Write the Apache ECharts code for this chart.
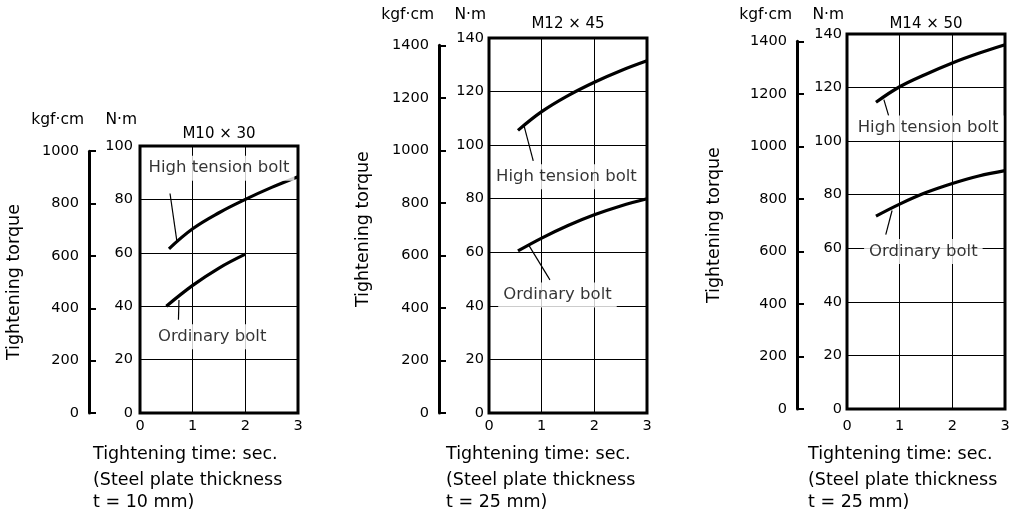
<!DOCTYPE html>
<html>
<head>
<meta charset="utf-8">
<script src="https://cdn.jsdelivr.net/npm/echarts@6/dist/echarts.min.js"></script>
<style>
  html, body { margin: 0; padding: 0; background: #fff; }
  #chart { width: 1019px; height: 512px; }
</style>
</head>
<body>
<div id="chart"></div>
<script>
// ---------- DATA ----------
const timeTicks = [0, 1, 2, 3];
const panelTitles = ['M10 \u00d7 30', 'M12 \u00d7 45', 'M14 \u00d7 50'];
const nmMax = [100, 140, 140];          // N·m axis max
const kgfMax = [1000, 1400, 1400];      // kgf·cm axis max
const thicknessText = ['t = 10 mm)', 't = 25 mm)', 't = 25 mm)'];

// Panel 1 (M10x30)
const htTime1 = [0.55, 1, 1.5, 2, 2.5, 3];
const highTension1 = [61.5, 69, 75, 80, 84.5, 88.5];
const ordTime1 = [0.5, 1, 1.5, 2];
const ordinary1 = [40, 47.8, 54.3, 59.5];
// Panel 2 (M12x45)
const htTime2 = [0.55, 1, 1.5, 2, 2.5, 3];
const highTension2 = [105.5, 112.5, 118.5, 123.5, 127.8, 131.5];
const ordTime2 = [0.55, 1, 1.5, 2, 2.5, 3];
const ordinary2 = [60.5, 65.3, 70, 74, 77.3, 80];
// Panel 3 (M14x50)
const htTime3 = [0.55, 1, 1.5, 2, 2.5, 3];
const highTension3 = [114.5, 120.3, 125, 129.2, 132.8, 136];
const ordTime3 = [0.55, 1, 1.5, 2, 2.5, 3];
const ordinary3 = [72, 76.5, 80.8, 84.2, 87, 89];

// annotation anchor points (data coordinates: [time, N·m])
const htLabelAt = [[1.5, 91.7], [1.47, 88.2], [1.54, 104.9]];
const ordLabelAt = [[1.37, 28.6], [1.30, 44.1], [1.45, 58.8]];
const htLeader = [[[0.57, 82.2], [0.70, 64.4]], [[0.667, 107.1], [0.84, 94.1]], [[0.70, 115.5], [0.79, 109.5]]];
const ordLeader = [[[0.73, 34.9], [0.74, 42.3]], [[0.763, 62.4], [1.157, 49.7]], [[0.856, 74.1], [0.736, 65.1]]];

const KGFCM_TO_NM = 0.0980665;

// ---------- LAYOUT ----------
const FONT = 'DejaVu Sans';
const plotLeft = [140, 489, 847];
const plotTop = [146, 38, 34];
const plotW = 158;
const plotH = [267, 375, 375];
const kgfX = [89, 439, 797];
const headerY = [120, 15, 15];
const titleY = [134, 24, 24];
const torqueNameGap = [66, 67, 74];
const nmLabelMargin = [7, 5, 5];
const timeLabelMargin = [6, 6, 10];
const bottomTextLeft = [93, 446, 808];
const bottomLineY = [454, 480, 502];

const htSets = [[htTime1, highTension1], [htTime2, highTension2], [htTime3, highTension3]];
const ordSets = [[ordTime1, ordinary1], [ordTime2, ordinary2], [ordTime3, ordinary3]];

const zip = (xs, ys) => xs.map((x, i) => [x, ys[i]]);

const grid = [], xAxis = [], yAxis = [], series = [], title = [];

function textTitle(text, left, cy, size, align) {
  const lh = Math.round(size * 1.25);
  title.push({
    text, left, top: cy - lh / 2, textAlign: align, padding: 0,
    textStyle: { fontFamily: FONT, fontSize: size, fontWeight: 'normal', color: '#000', lineHeight: lh }
  });
}

for (let p = 0; p < 3; p++) {
  const bottom = plotTop[p] + plotH[p];
  // main plot grid
  grid.push({
    left: plotLeft[p], top: plotTop[p], width: plotW, height: plotH[p],
    show: true, borderColor: '#000', borderWidth: 3, backgroundColor: 'transparent'
  });
  // kgf axis grid (height scaled by unit conversion)
  const kTop = plotTop[p] + plotH[p] * (1 - kgfMax[p] * KGFCM_TO_NM / nmMax[p]);
  grid.push({ left: kgfX[p], top: kTop, width: 1, height: bottom - kTop, show: false });

  const gi = p * 2;
  xAxis.push({
    gridIndex: gi, type: 'value', min: timeTicks[0], max: timeTicks[timeTicks.length - 1], interval: 1,
    axisLine: { show: false }, axisTick: { show: false },
    axisLabel: { show: true, margin: timeLabelMargin[p], fontFamily: FONT, fontSize: 14.5, color: '#000' },
    splitLine: { show: true, lineStyle: { color: '#000', width: 1 } }
  });
  xAxis.push({ gridIndex: gi + 1, type: 'value', show: false, min: 0, max: 1 });

  yAxis.push({
    gridIndex: gi, type: 'value', min: 0, max: nmMax[p], interval: 20,
    name: 'N\u00b7m', nameLocation: 'end', nameGap: plotTop[p] - headerY[p],
    nameTextStyle: { fontFamily: FONT, fontSize: 15.5, color: '#000', align: 'right', verticalAlign: 'middle', padding: [0, 3, 0, 0] },
    axisLine: { show: false }, axisTick: { show: false },
    axisLabel: { margin: nmLabelMargin[p], fontFamily: FONT, fontSize: 14.5, color: '#000', formatter: v => String(v) },
    splitLine: { show: true, lineStyle: { color: '#000', width: 1 } }
  });
  yAxis.push({
    gridIndex: gi + 1, type: 'value', min: 0, max: kgfMax[p], interval: 200, position: 'left',
    name: 'Tightening torque', nameLocation: 'middle', nameGap: torqueNameGap[p],
    nameTextStyle: { fontFamily: FONT, fontSize: 17.5, color: '#000' },
    axisLine: { show: true, lineStyle: { color: '#000', width: 3 } },
    axisTick: { show: true, inside: true, length: 7, lineStyle: { color: '#000', width: 2 } },
    axisLabel: { margin: 10, fontFamily: FONT, fontSize: 14.5, color: '#000', formatter: v => String(v) },
    splitLine: { show: false }
  });

  const lineCommon = { type: 'line', xAxisIndex: gi, yAxisIndex: gi, symbol: 'none', silent: true, animation: false };
  series.push(Object.assign({}, lineCommon, {
    name: 'High tension bolt', smooth: 0.4, data: zip(htSets[p][0], htSets[p][1]),
    lineStyle: { color: '#000', width: 3.2 }, z: 5
  }));
  series.push(Object.assign({}, lineCommon, {
    name: 'Ordinary bolt', smooth: 0.4, data: zip(ordSets[p][0], ordSets[p][1]),
    lineStyle: { color: '#000', width: 3.2 }, z: 5
  }));
  series.push(Object.assign({}, lineCommon, { data: htLeader[p], lineStyle: { color: '#000', width: 1.2 }, z: 4 }));
  series.push(Object.assign({}, lineCommon, { data: ordLeader[p], lineStyle: { color: '#000', width: 1.2 }, z: 4 }));
  series.push({
    type: 'scatter', xAxisIndex: gi, yAxisIndex: gi, silent: true, animation: false,
    symbol: 'circle', symbolSize: 1, itemStyle: { color: 'rgba(0,0,0,0)' }, z: 6,
    label: {
      show: true, position: 'inside', formatter: '{b}',
      fontFamily: FONT, fontSize: 16.5, color: '#000', backgroundColor: '#fff', padding: [4, 5]
    },
    data: [
      { name: 'High tension bolt', value: htLabelAt[p] },
      { name: 'Ordinary bolt', value: ordLabelAt[p] }
    ]
  });

  // texts
  textTitle(panelTitles[p], plotLeft[p] + plotW / 2, titleY[p], 15, 'center');
  textTitle('kgf\u00b7cm', kgfX[p] - 5, headerY[p], 15.5, 'right');
  const bx = bottomTextLeft[p];
  textTitle('Tightening time: sec.', bx, bottomLineY[0], 17.5, 'left');
  textTitle('(Steel plate thickness', bx, bottomLineY[1], 17.5, 'left');
  textTitle(thicknessText[p], bx, bottomLineY[2], 17.5, 'left');
}

const chart = echarts.init(document.getElementById('chart'), null, { renderer: 'canvas' });
chart.setOption({ animation: false, backgroundColor: '#fff', title, grid, xAxis, yAxis, series });
</script>
</body>
</html>
